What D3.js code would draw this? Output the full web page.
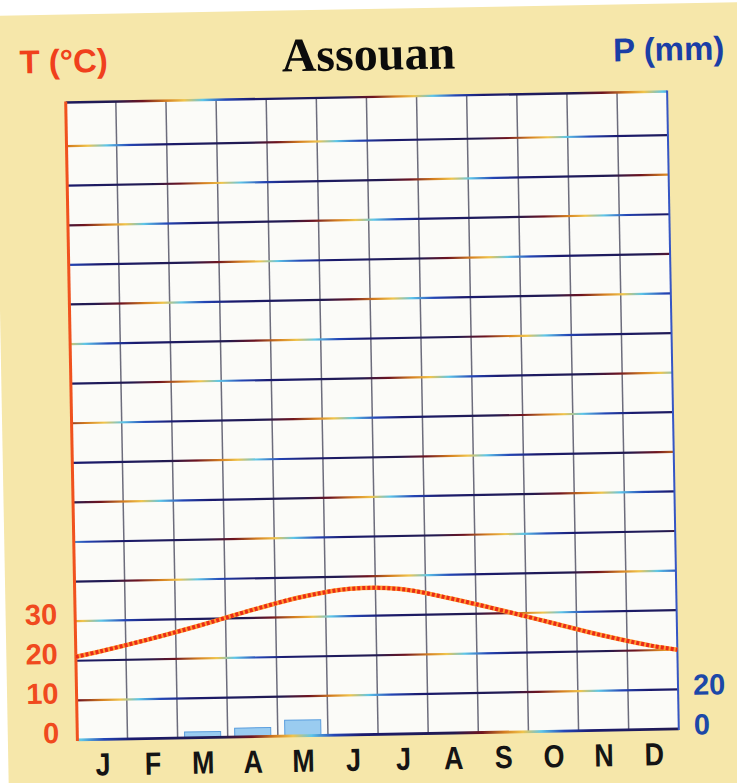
<!DOCTYPE html>
<html>
<head>
<meta charset="utf-8">
<title>Assouan</title>
<style>
body { margin: 0; background: #ffffff; }
#climChart { width: 737px; height: 783px; display: block; }
.tick-t text { fill: #f04a1e; font-family: "Liberation Sans", Arial, sans-serif; font-size: 29px; font-weight: bold; }
.tick-p text { fill: #1c48a8; font-family: "Liberation Sans", Arial, sans-serif; font-size: 29px; font-weight: bold; }
.tick-m text { fill: #141414; font-family: "Liberation Sans", Arial, sans-serif; font-size: 32px; font-weight: bold; }
</style>
</head>
<body>

<svg id="climChart" width="737" height="783"></svg>

<script src="https://d3js.org/d3.v7.min.js"></script>
<script>

// months and their letters
const months = ["jan", "feb", "mar", "apr", "may", "jun", "jul", "aug", "sep", "oct", "nov", "dec"];
const monthLetters = ["J", "F", "M", "A", "M", "J", "J", "A", "S", "O", "N", "D"];

// mean temperature (°C) at month centres
const temperature = [22.3, 25.2, 28.4, 31.9, 35.0, 36.9, 36.6, 34.0, 30.8, 27.4, 24.0, 21.1];
// where the curve meets the left and right borders
const tempStart = 21;
const tempEnd = 20;

// precipitation (mm)
const precipitation = [0, 0, 3, 4.5, 8, 0, 0, 0, 0, 0, 0, 0];

// tick labels shown on each side
const tempTicks = [0, 10, 20, 30];
const precipTicks = [0, 20];

// plot frame (before the small tilt of the scan)
const plot = { left: 71.5, right: 673, top: 97, bottom: 734.5 };
const tMax = 161;         // 16 grid steps of 10 °C and a bit
const pMax = tMax * 2;    // 20 mm for each 10 °C

const svg = d3.select("#climChart");
const defs = svg.append("defs");

// the whole page is slightly tilted in the scan
const page = svg.append("g")
  .attr("transform", "rotate(-1.05, 372, 415.5)");

// paper
page.append("rect")
  .attr("x", 2)
  .attr("y", 9)
  .attr("width", 790)
  .attr("height", 830)
  .attr("fill", "#f6e7aa");

// scales
const x = d3.scaleBand()
  .domain(months)
  .range([plot.left, plot.right]);

const xBar = x.copy()
  .paddingInner(0.28)
  .paddingOuter(0.14);

const yT = d3.scaleLinear()
  .domain([0, tMax])
  .range([plot.bottom, plot.top]);

const yP = d3.scaleLinear()
  .domain([0, pMax])
  .range([plot.bottom, plot.top]);

// white plot area
page.append("rect")
  .attr("x", plot.left)
  .attr("y", plot.top)
  .attr("width", plot.right - plot.left)
  .attr("height", plot.bottom - plot.top)
  .attr("fill", "#fbfbf8");

// vertical month lines
page.append("g")
  .selectAll("line")
  .data(months.slice(1))
  .join("line")
  .attr("x1", d => x(d))
  .attr("x2", d => x(d))
  .attr("y1", plot.top)
  .attr("y2", plot.bottom)
  .attr("stroke", "#6c6c7c")
  .attr("stroke-width", 1.5);

// the printed horizontal lines have a colour fringe from the scan
const gridVals = d3.range(10, 160, 10).concat([tMax]);
const fringe = [
  ["0%", "#1e1b5e"], ["20%", "#221a50"], ["32%", "#6e1420"], ["42%", "#d47e20"],
  ["50%", "#f0c44c"], ["58%", "#5ec6e8"], ["68%", "#2446b6"], ["80%", "#1a1a6e"], ["100%", "#1e1b5e"]
];
gridVals.concat([0]).forEach((v, i) => {
  const g = defs.append("linearGradient")
    .attr("id", "fringe" + i)
    .attr("gradientUnits", "userSpaceOnUse")
    .attr("spreadMethod", "repeat")
    .attr("x1", 0).attr("y1", 0)
    .attr("x2", 230).attr("y2", 0)
    .attr("gradientTransform", `translate(${(i * 97) % 230},0)`);
  fringe.forEach(s => g.append("stop").attr("offset", s[0]).attr("stop-color", s[1]));
});

page.append("g")
  .selectAll("line")
  .data(gridVals)
  .join("line")
  .attr("x1", plot.left)
  .attr("x2", plot.right)
  .attr("y1", d => yT(d))
  .attr("y2", d => yT(d))
  .attr("stroke", (d, i) => `url(#fringe${i})`)
  .attr("stroke-width", d => d === tMax ? 2.4 : 2.2);

// precipitation bars
page.append("g")
  .selectAll("rect")
  .data(months.map((m, i) => ({ m, p: precipitation[i] })).filter(d => d.p > 0))
  .join("rect")
  .attr("x", d => xBar(d.m))
  .attr("width", xBar.bandwidth())
  .attr("y", d => yP(d.p))
  .attr("height", d => yP(0) - yP(d.p))
  .attr("fill", "#9accf0")
  .attr("stroke", "#5a9ede")
  .attr("stroke-width", 1);

// bottom border
page.append("line")
  .attr("x1", plot.left)
  .attr("x2", plot.right)
  .attr("y1", yT(0))
  .attr("y2", yT(0))
  .attr("stroke", `url(#fringe${gridVals.length})`)
  .attr("stroke-width", 2.8);

// left (temperature) and right (precipitation) borders
page.append("line")
  .attr("x1", plot.left).attr("x2", plot.left)
  .attr("y1", plot.top - 1).attr("y2", plot.bottom + 1)
  .attr("stroke", "#f0521e")
  .attr("stroke-width", 3);

page.append("line")
  .attr("x1", plot.right).attr("x2", plot.right)
  .attr("y1", plot.top - 1).attr("y2", plot.bottom + 1)
  .attr("stroke", "#3656c4")
  .attr("stroke-width", 2);

// temperature curve
const tempPoints = [{ x: x.range()[0], t: tempStart }]
  .concat(months.map((m, i) => ({ x: x(m) + x.bandwidth() / 2, t: temperature[i] })))
  .concat([{ x: x.range()[1], t: tempEnd }]);

const tempLine = d3.line()
  .x(d => d.x)
  .y(d => yT(d.t))
  .curve(d3.curveCatmullRom.alpha(0.5));

page.append("path")
  .datum(tempPoints)
  .attr("fill", "none")
  .attr("stroke", "#ff9a30")
  .attr("stroke-width", 4.5)
  .attr("d", tempLine);

page.append("path")
  .datum(tempPoints)
  .attr("fill", "none")
  .attr("stroke", "#ea2a18")
  .attr("stroke-width", 4)
  .attr("stroke-dasharray", "3 2")
  .attr("d", tempLine);

// tick labels
const leftAxis = page.append("g")
  .attr("class", "tick-t")
  .attr("transform", `translate(${plot.left},0)`)
  .call(d3.axisLeft(yT).tickValues(tempTicks).tickSize(0).tickPadding(18));
leftAxis.select(".domain").remove();
leftAxis.selectAll("text").attr("dy", "0.32em").attr("y", -7);

const rightAxis = page.append("g")
  .attr("class", "tick-p")
  .attr("transform", `translate(${plot.right},0)`)
  .call(d3.axisRight(yP).tickValues(precipTicks).tickSize(0).tickPadding(15));
rightAxis.select(".domain").remove();
rightAxis.selectAll("text").attr("dy", "0.32em").attr("y", -4);

// month letters, a little narrow like the print
const monthAxis = page.append("g")
  .attr("class", "tick-m")
  .attr("transform", `translate(0,${plot.bottom})`)
  .call(d3.axisBottom(x).tickSize(0).tickPadding(0).tickFormat((d, i) => monthLetters[i]));
monthAxis.select(".domain").remove();
monthAxis.selectAll("text")
  .attr("dy", null)
  .attr("y", 36)
  .attr("transform", "scale(0.84,1)");

// titles
page.append("text")
  .attr("x", 26)
  .attr("y", 67)
  .attr("fill", "#f0401c")
  .attr("font-family", "Liberation Sans, Arial, sans-serif")
  .attr("font-size", 33)
  .attr("font-weight", "bold")
  .text("T (°C)");

page.append("text")
  .attr("x", 375)
  .attr("y", 70)
  .attr("text-anchor", "middle")
  .attr("fill", "#0c0c0c")
  .attr("font-family", "Liberation Serif, Times New Roman, serif")
  .attr("font-size", 48)
  .attr("font-weight", "bold")
  .text("Assouan");

page.append("text")
  .attr("x", 731)
  .attr("y", 66)
  .attr("text-anchor", "end")
  .attr("fill", "#1a3ea6")
  .attr("font-family", "Liberation Sans, Arial, sans-serif")
  .attr("font-size", 33)
  .attr("font-weight", "bold")
  .text("P (mm)");

</script>
</body>
</html>
